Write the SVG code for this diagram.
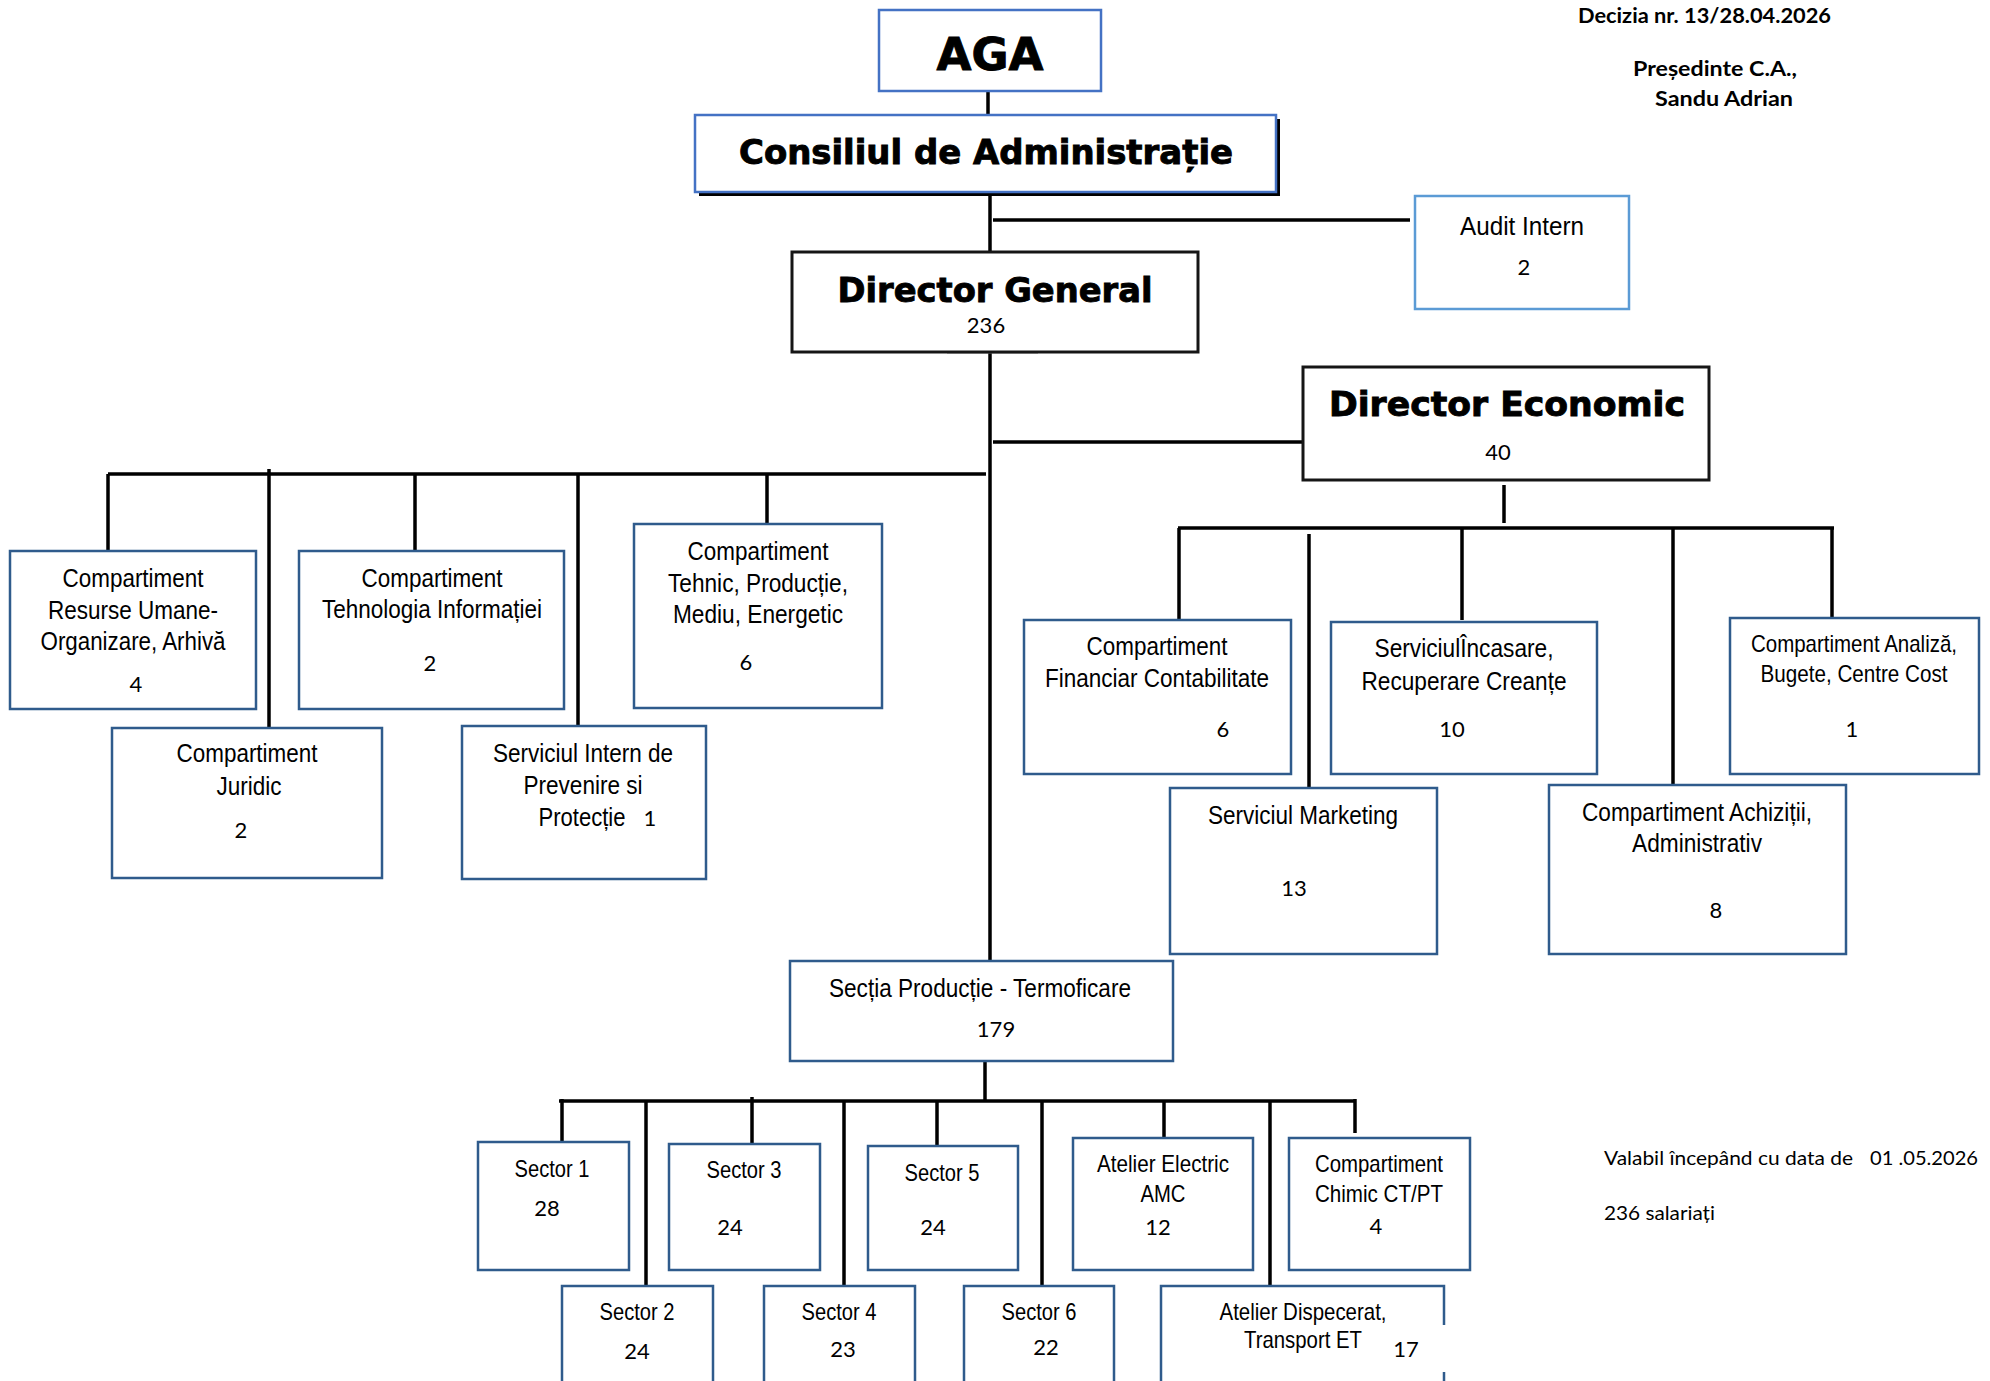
<svg xmlns="http://www.w3.org/2000/svg" width="1990" height="1381" viewBox="0 0 1990 1381">
<style>
.bg{fill:#fff}
.box{fill:#fff;stroke:#2f5b8c;stroke-width:2.5}
.boxb{fill:#fff;stroke:#4472c4;stroke-width:2.5}
.boxa{fill:#fff;stroke:#5b9bd5;stroke-width:2.5}
.boxk{fill:#fff;stroke:#161616;stroke-width:3}
.ln{stroke:#000;stroke-width:3.5;fill:none}
.t{font-family:'Liberation Sans',Arial,sans-serif;font-size:26px;fill:#000;text-anchor:middle}
.ts{font-family:'Liberation Sans',Arial,sans-serif;font-size:24px;fill:#000;text-anchor:middle}
.n{font-family:Lato,'Liberation Sans',sans-serif;font-size:22px;fill:#000;text-anchor:middle}
.h{font-family:'DejaVu Sans','Liberation Sans',sans-serif;font-weight:bold;fill:#000;stroke:#000;stroke-width:0.9;text-anchor:middle}
.c{font-family:Lato,'Liberation Sans',sans-serif;font-size:20px;fill:#000}
.cb{font-family:Lato,'Liberation Sans',sans-serif;font-size:21px;font-weight:bold;fill:#000}
</style>
<rect class="bg" x="0" y="0" width="1990" height="1381"/>

<g id="connectors">
<line class="ln" x1="988" y1="91" x2="988" y2="115"/>
<line class="ln" x1="990" y1="192" x2="990" y2="252"/>
<line class="ln" x1="993" y1="220" x2="1410" y2="220"/>
<line class="ln" x1="990" y1="352" x2="990" y2="961"/>
<line x1="947" y1="352" x2="1038" y2="352" stroke="#8a8a8a" stroke-width="3"/>
<line class="ln" x1="108" y1="474" x2="986" y2="474"/>
<line class="ln" x1="108" y1="474" x2="108" y2="551"/>
<line class="ln" x1="269" y1="469" x2="269" y2="728"/>
<line class="ln" x1="415" y1="474" x2="415" y2="551"/>
<line class="ln" x1="578" y1="474" x2="578" y2="726"/>
<line class="ln" x1="767" y1="474" x2="767" y2="524"/>
<line class="ln" x1="993" y1="442" x2="1303" y2="442"/>
<line class="ln" x1="1504" y1="485" x2="1504" y2="523"/>
<line class="ln" x1="1178" y1="528" x2="1834" y2="528"/>
<line class="ln" x1="1179" y1="528" x2="1179" y2="620"/>
<line class="ln" x1="1309" y1="534" x2="1309" y2="788"/>
<line class="ln" x1="1462" y1="528" x2="1462" y2="620"/>
<line class="ln" x1="1673" y1="528" x2="1673" y2="785"/>
<line class="ln" x1="1832" y1="528" x2="1832" y2="618"/>
<line class="ln" x1="985" y1="1061" x2="985" y2="1101"/>
<line class="ln" x1="559" y1="1101" x2="1355" y2="1101"/>
<line class="ln" x1="562" y1="1099" x2="562" y2="1142"/>
<line class="ln" x1="646" y1="1101" x2="646" y2="1286"/>
<line class="ln" x1="752" y1="1097" x2="752" y2="1144"/>
<line class="ln" x1="844" y1="1101" x2="844" y2="1286"/>
<line class="ln" x1="937" y1="1101" x2="937" y2="1146"/>
<line class="ln" x1="1042" y1="1101" x2="1042" y2="1286"/>
<line class="ln" x1="1164" y1="1101" x2="1164" y2="1138"/>
<line class="ln" x1="1270" y1="1101" x2="1270" y2="1286"/>
<line class="ln" x1="1355" y1="1099" x2="1355" y2="1133"/>
</g>

<g id="aga">
<rect class="boxb" x="879" y="10" width="222" height="81"/>
<text class="h" x="990" y="70" font-size="44" textLength="107" lengthAdjust="spacingAndGlyphs">AGA</text>
</g>

<g id="consiliu">
<rect x="699" y="119" width="581" height="77" fill="#000"/>
<rect class="boxb" x="695" y="115" width="581" height="77"/>
<text class="h" x="986" y="164" font-size="33" textLength="494" lengthAdjust="spacingAndGlyphs">Consiliul de Administrație</text>
</g>

<g id="audit">
<rect class="boxa" x="1415" y="196" width="214" height="113"/>
<text class="t" x="1522" y="235" font-size="28" textLength="124" lengthAdjust="spacingAndGlyphs">Audit Intern</text>
<text class="n" x="1524" y="275">2</text>
</g>

<g id="director-general">
<rect class="boxk" x="792" y="252" width="406" height="100"/>
<text class="h" x="995" y="302" font-size="34" textLength="315" lengthAdjust="spacingAndGlyphs">Director General</text>
<text class="n" x="986" y="333" font-size="23">236</text>
</g>

<g id="director-economic">
<rect class="boxk" x="1303" y="367" width="406" height="113"/>
<text class="h" x="1507" y="416" font-size="33" textLength="356" lengthAdjust="spacingAndGlyphs">Director Economic</text>
<text class="n" x="1498" y="460" font-size="23">40</text>
</g>

<g id="resurse-umane">
<rect class="box" x="10" y="551" width="246" height="158"/>
<text class="t" x="133" y="587" textLength="141" lengthAdjust="spacingAndGlyphs">Compartiment</text>
<text class="t" x="133" y="619" textLength="170" lengthAdjust="spacingAndGlyphs">Resurse Umane-</text>
<text class="t" x="133" y="650" textLength="185" lengthAdjust="spacingAndGlyphs">Organizare, Arhivă</text>
<text class="n" x="136" y="692" font-size="21">4</text>
</g>

<g id="tehnologia-informatiei">
<rect class="box" x="299" y="551" width="265" height="158"/>
<text class="t" x="432" y="587" textLength="141" lengthAdjust="spacingAndGlyphs">Compartiment</text>
<text class="t" x="432" y="618" textLength="220" lengthAdjust="spacingAndGlyphs">Tehnologia Informației</text>
<text class="n" x="430" y="671" font-size="21">2</text>
</g>

<g id="juridic">
<rect class="box" x="112" y="728" width="270" height="150"/>
<text class="t" x="247" y="762" textLength="141" lengthAdjust="spacingAndGlyphs">Compartiment</text>
<text class="t" x="249" y="795" textLength="65" lengthAdjust="spacingAndGlyphs">Juridic</text>
<text class="n" x="241" y="838" font-size="21">2</text>
</g>

<g id="sipp">
<rect class="box" x="462" y="726" width="244" height="153"/>
<text class="t" x="583" y="762" textLength="180" lengthAdjust="spacingAndGlyphs">Serviciul Intern de</text>
<text class="t" x="583" y="794" textLength="119" lengthAdjust="spacingAndGlyphs">Prevenire si</text>
<text class="t" x="582" y="826" textLength="87" lengthAdjust="spacingAndGlyphs">Protecție</text>
<text class="n" x="650" y="826" font-size="20">1</text>
</g>

<g id="tehnic">
<rect class="box" x="634" y="524" width="248" height="184"/>
<text class="t" x="758" y="560" textLength="141" lengthAdjust="spacingAndGlyphs">Compartiment</text>
<text class="t" x="758" y="592" textLength="180" lengthAdjust="spacingAndGlyphs">Tehnic, Producție,</text>
<text class="t" x="758" y="623" textLength="170" lengthAdjust="spacingAndGlyphs">Mediu, Energetic</text>
<text class="n" x="746" y="670" font-size="21">6</text>
</g>

<g id="financiar">
<rect class="box" x="1024" y="620" width="267" height="154"/>
<text class="t" x="1157" y="655" textLength="141" lengthAdjust="spacingAndGlyphs">Compartiment</text>
<text class="t" x="1157" y="687" textLength="224" lengthAdjust="spacingAndGlyphs">Financiar Contabilitate</text>
<text class="n" x="1223" y="737" font-size="21">6</text>
</g>

<g id="incasare">
<rect class="box" x="1331" y="622" width="266" height="152"/>
<text class="t" x="1464" y="657" textLength="179" lengthAdjust="spacingAndGlyphs">ServiciulÎncasare,</text>
<text class="t" x="1464" y="690" textLength="205" lengthAdjust="spacingAndGlyphs">Recuperare Creanțe</text>
<text class="n" x="1452" y="737" font-size="21">10</text>
</g>

<g id="analiza">
<rect class="box" x="1730" y="618" width="249" height="156"/>
<text class="ts" x="1854" y="652" textLength="206" lengthAdjust="spacingAndGlyphs">Compartiment Analiză,</text>
<text class="ts" x="1854" y="682" textLength="187" lengthAdjust="spacingAndGlyphs">Bugete, Centre Cost</text>
<text class="n" x="1852" y="737" font-size="21">1</text>
</g>

<g id="marketing">
<rect class="box" x="1170" y="788" width="267" height="166"/>
<text class="t" x="1303" y="824" textLength="190" lengthAdjust="spacingAndGlyphs">Serviciul Marketing</text>
<text class="n" x="1294" y="896" font-size="21">13</text>
</g>

<g id="achizitii">
<rect class="box" x="1549" y="785" width="297" height="169"/>
<text class="t" x="1697" y="821" textLength="230" lengthAdjust="spacingAndGlyphs">Compartiment Achiziții,</text>
<text class="t" x="1697" y="852" textLength="130" lengthAdjust="spacingAndGlyphs">Administrativ</text>
<text class="n" x="1716" y="918" font-size="21">8</text>
</g>

<g id="sectia-productie">
<rect class="box" x="790" y="961" width="383" height="100"/>
<text class="t" x="980" y="997" textLength="302" lengthAdjust="spacingAndGlyphs">Secția Producție - Termoficare</text>
<text class="n" x="996" y="1037" font-size="21">179</text>
</g>

<g id="sector-1">
<rect class="box" x="478" y="1142" width="151" height="128"/>
<text class="ts" x="552" y="1177" textLength="75" lengthAdjust="spacingAndGlyphs">Sector 1</text>
<text class="n" x="547" y="1216">28</text>
</g>
<g id="sector-3">
<rect class="box" x="669" y="1144" width="151" height="126"/>
<text class="ts" x="744" y="1178" textLength="75" lengthAdjust="spacingAndGlyphs">Sector 3</text>
<text class="n" x="730" y="1235">24</text>
</g>
<g id="sector-5">
<rect class="box" x="868" y="1146" width="150" height="124"/>
<text class="ts" x="942" y="1181" textLength="75" lengthAdjust="spacingAndGlyphs">Sector 5</text>
<text class="n" x="933" y="1235">24</text>
</g>
<g id="atelier-electric">
<rect class="box" x="1073" y="1138" width="180" height="132"/>
<text class="ts" x="1163" y="1172" textLength="132" lengthAdjust="spacingAndGlyphs">Atelier Electric</text>
<text class="ts" x="1163" y="1202" textLength="45" lengthAdjust="spacingAndGlyphs">AMC</text>
<text class="n" x="1158" y="1235">12</text>
</g>
<g id="chimic">
<rect class="box" x="1289" y="1138" width="181" height="132"/>
<text class="ts" x="1379" y="1172" textLength="128" lengthAdjust="spacingAndGlyphs">Compartiment</text>
<text class="ts" x="1379" y="1202" textLength="128" lengthAdjust="spacingAndGlyphs">Chimic CT/PT</text>
<text class="n" x="1376" y="1234">4</text>
</g>
<g id="sector-2">
<rect class="box" x="562" y="1286" width="151" height="120"/>
<text class="ts" x="637" y="1320" textLength="75" lengthAdjust="spacingAndGlyphs">Sector 2</text>
<text class="n" x="637" y="1359">24</text>
</g>
<g id="sector-4">
<rect class="box" x="764" y="1286" width="151" height="120"/>
<text class="ts" x="839" y="1320" textLength="75" lengthAdjust="spacingAndGlyphs">Sector 4</text>
<text class="n" x="843" y="1357">23</text>
</g>
<g id="sector-6">
<rect class="box" x="964" y="1286" width="150" height="120"/>
<text class="ts" x="1039" y="1320" textLength="75" lengthAdjust="spacingAndGlyphs">Sector 6</text>
<text class="n" x="1046" y="1355">22</text>
</g>
<g id="dispecerat">
<rect class="box" x="1161" y="1286" width="283" height="120"/>
<rect x="1440" y="1325" width="8" height="47" fill="#fff"/>
<text class="ts" x="1303" y="1320" textLength="167" lengthAdjust="spacingAndGlyphs">Atelier Dispecerat,</text>
<text class="ts" x="1303" y="1348" textLength="118" lengthAdjust="spacingAndGlyphs">Transport ET</text>
<text class="n" x="1406" y="1357">17</text>
</g>

<g id="notes">
<text class="cb" x="1578" y="23" textLength="253" lengthAdjust="spacingAndGlyphs">Decizia nr. 13/28.04.2026</text>
<text class="cb" x="1633" y="76" textLength="164" lengthAdjust="spacingAndGlyphs">Președinte C.A.,</text>
<text class="cb" x="1655" y="106" textLength="138" lengthAdjust="spacingAndGlyphs">Sandu Adrian</text>
<text class="c" x="1604" y="1165" textLength="249" lengthAdjust="spacingAndGlyphs">Valabil începând cu data de</text>
<text class="c" x="1870" y="1165" textLength="108" lengthAdjust="spacingAndGlyphs">01 .05.2026</text>
<text class="c" x="1604" y="1220" textLength="111" lengthAdjust="spacingAndGlyphs">236 salariați</text>
</g>
</svg>
